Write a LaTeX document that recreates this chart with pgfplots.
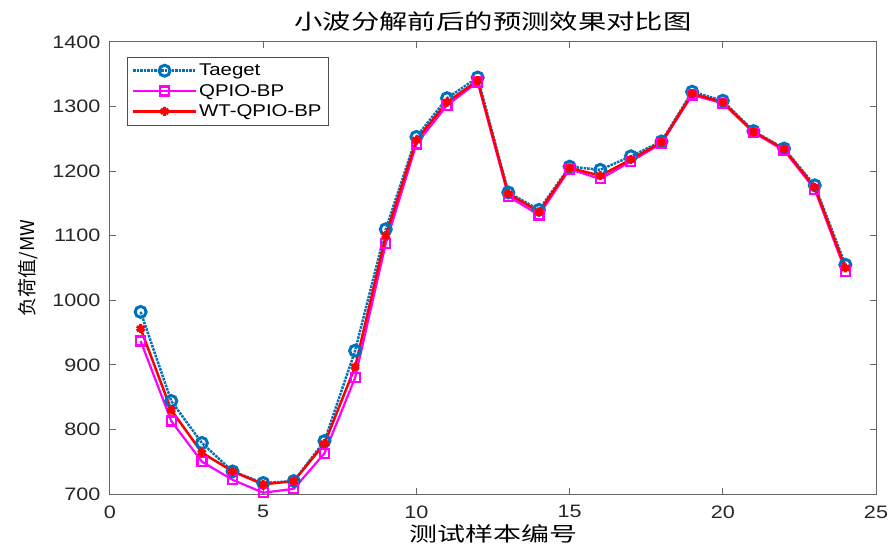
\documentclass[border=0pt]{standalone}
\usepackage{pgfplots}
\pgfplotsset{compat=1.18}
\usepackage{fontspec}
\setmainfont{Liberation Sans}[FakeStretch=1.2]
\newfontfamily\cjk{Noto Sans CJK SC}
\newfontfamily\cjkw{Noto Sans CJK SC}[FakeStretch=1.4]
\newfontfamily\cjkt{Noto Sans CJK SC}[FakeStretch=1.35]
\definecolor{mblue}{rgb}{0,0.447,0.741}
\definecolor{mmag}{rgb}{1,0,1}
\definecolor{mred}{rgb}{1,0,0}
\begin{document}
\begin{tikzpicture}
\begin{axis}[
  scale only axis,
  width=766pt, height=452pt,
  xmin=0, xmax=25, ymin=700, ymax=1400,
  xtick={0,5,...,25}, ytick={700,800,...,1400},
  tick align=inside,
  major tick length=6pt,
  axis line style={draw=black!60, line width=1pt},
  tick style={black!60, line width=1pt},
  ticklabel style={font=\fontsize{18}{20}\selectfont, text=black!85},
  xticklabel style={yshift=-8pt},
  yticklabel style={xshift=-6pt},
  /pgf/number format/assume math mode=true,
  /pgf/number format/1000 sep={},
  title={\cjkt 小波分解前后的预测效果对比图},
  title style={font=\fontsize{21}{24}\selectfont, yshift=1pt},
  xlabel={\cjkw 测试样本编号},
  ylabel={\cjk 负荷值/MW},
  xlabel style={font=\fontsize{20}{22}\selectfont, yshift=1pt},
  ylabel style={font=\fontsize{19}{22}\selectfont, yshift=8pt},
  legend style={at={(0.022,0.967)}, anchor=north west, font=\fontsize{17}{19}\selectfont, draw=black!70, row sep=3pt, inner sep=5pt},
  legend cell align=left,
  legend image code/.code={\draw[mark repeat=2,mark phase=2] plot coordinates {(0cm,0cm) (1.1cm,0cm) (2.2cm,0cm)};},
  clip=false,
]
\addplot[mblue, densely dotted, line width=2.5pt, mark=o, mark size=5.5pt, mark options={solid, line width=3pt}] coordinates {
(1,982)(2,844)(3,779)(4,735)(5,717)(6,720)(7,782)(8,922)(9,1110)(10,1253)(11,1313)(12,1345)
(13,1167)(14,1140)(15,1207)(16,1202)(17,1223)(18,1246)(19,1323)(20,1309)(21,1262)(22,1235)(23,1178)(24,1055)};
\addlegendentry{Taeget}
\addplot[mmag, line width=2.2pt, mark=square, mark size=4.5pt, mark options={solid, line width=2.2pt}] coordinates {
(1,937)(2,813)(3,750)(4,722)(5,702)(6,708)(7,763)(8,880)(9,1088)(10,1242)(11,1302)(12,1338)
(13,1161)(14,1132)(15,1203)(16,1188)(17,1215)(18,1243)(19,1318)(20,1305)(21,1260)(22,1232)(23,1172)(24,1045)};
\addlegendentry{QPIO-BP}
\addplot[mred, line width=2.5pt, mark=asterisk, mark size=4.5pt, mark options={solid, line width=3pt}] coordinates {
(1,956)(2,830)(3,764)(4,735)(5,715)(6,720)(7,778)(8,897)(9,1100)(10,1248)(11,1307)(12,1340)
(13,1165)(14,1137)(15,1205)(16,1193)(17,1218)(18,1245)(19,1320)(20,1307)(21,1261)(22,1234)(23,1175)(24,1050)};
\addlegendentry{WT-QPIO-BP}
\end{axis}
\pgfresetboundingbox
\path[use as bounding box] ([xshift=-110pt,yshift=-54pt]current axis.south west) rectangle ([xshift=14pt,yshift=42pt]current axis.north east);
\end{tikzpicture}
\end{document}
